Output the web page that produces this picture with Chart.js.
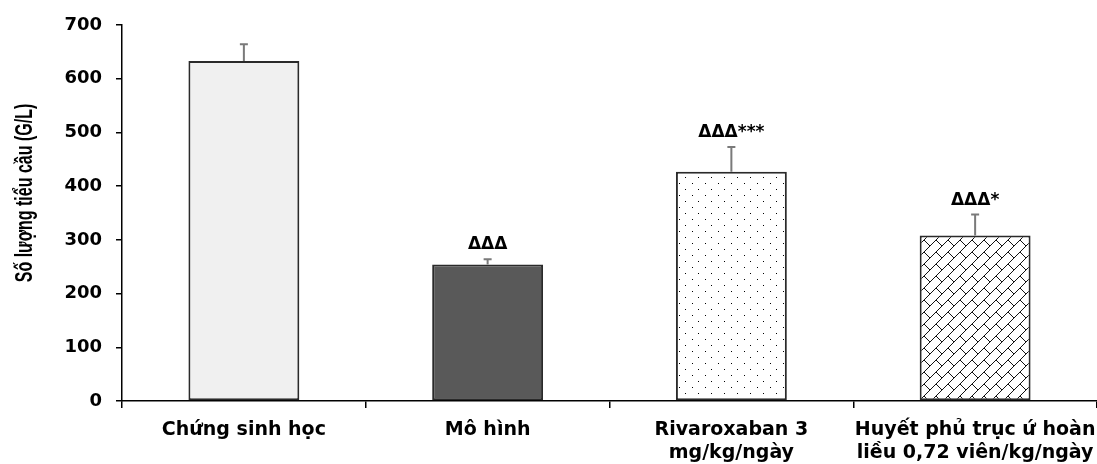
<!DOCTYPE html>
<html>
<head>
<meta charset="utf-8">
<script src="https://cdn.jsdelivr.net/npm/chart.js@4.4.1/dist/chart.umd.min.js"></script>
<style>
  html, body { margin: 0; padding: 0; background: #fff; }
  canvas { display: block; }
</style>
</head>
<body>
<canvas id="plateletChart" width="1097" height="464"></canvas>
<script>
// data
const categories = [
  'Chứng sinh học',
  'Mô hình',
  ['Rivaroxaban 3', 'mg/kg/ngày'],
  ['Huyết phủ trục ứ hoàn', 'liều 0,72 viên/kg/ngày']
];
const meanValues = [633, 254, 427, 308];
const errorValues = [31, 10, 46, 39];
const markers = ['', 'ΔΔΔ', 'ΔΔΔ***', 'ΔΔΔ*'];
const yTicks = [0, 100, 200, 300, 400, 500, 600, 700];
const yTitle = 'Số lượng tiểu cầu (G/L)';

// fill patterns for bars 3 and 4
function dotPattern() {
  const c = document.createElement('canvas');
  c.width = 13; c.height = 12;
  const g = c.getContext('2d');
  g.fillStyle = '#fff';
  g.fillRect(0, 0, 13, 12);
  g.fillStyle = '#000';
  g.fillRect(3, 3, 1, 1);
  g.fillRect(9, 9, 1, 1);
  return g.createPattern(c, 'repeat');
}

function hatchPattern() {
  const c = document.createElement('canvas');
  c.width = 12; c.height = 12;
  const g = c.getContext('2d');
  g.fillStyle = '#fff';
  g.fillRect(0, 0, 12, 12);
  g.strokeStyle = '#111';
  g.lineWidth = 1;
  g.beginPath();
  g.moveTo(-1, 13); g.lineTo(13, -1);
  g.moveTo(0, 0); g.lineTo(6, 6);
  g.stroke();
  return g.createPattern(c, 'repeat');
}

const ctx = document.getElementById('plateletChart').getContext('2d');

// error bars (upper only) and significance markers
const errorBarPlugin = {
  id: 'errorBars',
  afterDatasetsDraw(chart) {
    const y = chart.scales.y;
    const meta = chart.getDatasetMeta(0);
    const c = chart.ctx;
    c.save();
    meta.data.forEach((bar, i) => {
      const top = y.getPixelForValue(meanValues[i] + errorValues[i]);
      const base = y.getPixelForValue(meanValues[i]);
      c.strokeStyle = '#7a7a7a';
      c.lineWidth = 2;
      c.beginPath();
      c.moveTo(bar.x, base);
      c.lineTo(bar.x, top);
      c.moveTo(bar.x - 4, top);
      c.lineTo(bar.x + 4, top);
      c.stroke();
      if (markers[i]) {
        c.fillStyle = '#000';
        c.font = 'bold 17px "DejaVu Sans"';
        c.textAlign = 'center';
        c.textBaseline = 'alphabetic';
        c.fillText(markers[i], bar.x, top - 10);
      }
    });
    c.restore();
  },
  afterDraw(chart) {
    // y-axis title, stretched like the original
    const c = chart.ctx;
    c.save();
    c.translate(26, 193);
    c.rotate(-Math.PI / 2);
    c.scale(1, 1.45);
    c.fillStyle = '#000';
    c.font = 'bold 16px "Liberation Sans"';
    c.textAlign = 'center';
    c.textBaseline = 'middle';
    c.fillText(yTitle, 0, 0);
    c.restore();
  }
};

new Chart(ctx, {
  type: 'bar',
  data: {
    labels: categories,
    datasets: [{
      data: meanValues,
      backgroundColor: ['#f0f0f0', '#595959', dotPattern(), hatchPattern()],
      borderColor: '#2a2a2a',
      borderWidth: 2,
      borderSkipped: false,
      categoryPercentage: 1,
      barPercentage: 0.455
    }]
  },
  options: {
    responsive: false,
    animation: false,
    layout: { padding: { top: 25, right: 0, left: 0, bottom: 0 } },
    plugins: {
      legend: { display: false },
      tooltip: { enabled: false }
    },
    scales: {
      x: {
        offset: true,
        grid: {
          offset: true,
          drawOnChartArea: false,
          drawTicks: true,
          tickLength: 7,
          color: '#000',
          lineWidth: 1.5
        },
        border: { color: '#000', width: 1.5 },
        ticks: {
          color: '#000',
          font: { family: 'DejaVu Sans', weight: 'bold', size: 19 },
          padding: 11,
          maxRotation: 0,
          autoSkip: false
        },
        afterFit(scale) {
          scale.height = 63;
          scale.paddingLeft = 0;
          scale.paddingRight = 0;
        }
      },
      y: {
        min: yTicks[0],
        max: yTicks[yTicks.length - 1],
        afterBuildTicks(scale) {
          scale.ticks = yTicks.map(v => ({ value: v }));
        },
        grid: {
          drawOnChartArea: false,
          tickLength: 6,
          color: '#000',
          lineWidth: 1.5
        },
        border: { color: '#000', width: 1.5 },
        ticks: {
          color: '#000',
          font: { family: 'DejaVu Sans', weight: 'bold', size: 18 },
          padding: 14
        },
        afterFit(scale) { scale.width = 122; }
      }
    }
  },
  plugins: [errorBarPlugin]
});
</script>
</body>
</html>
